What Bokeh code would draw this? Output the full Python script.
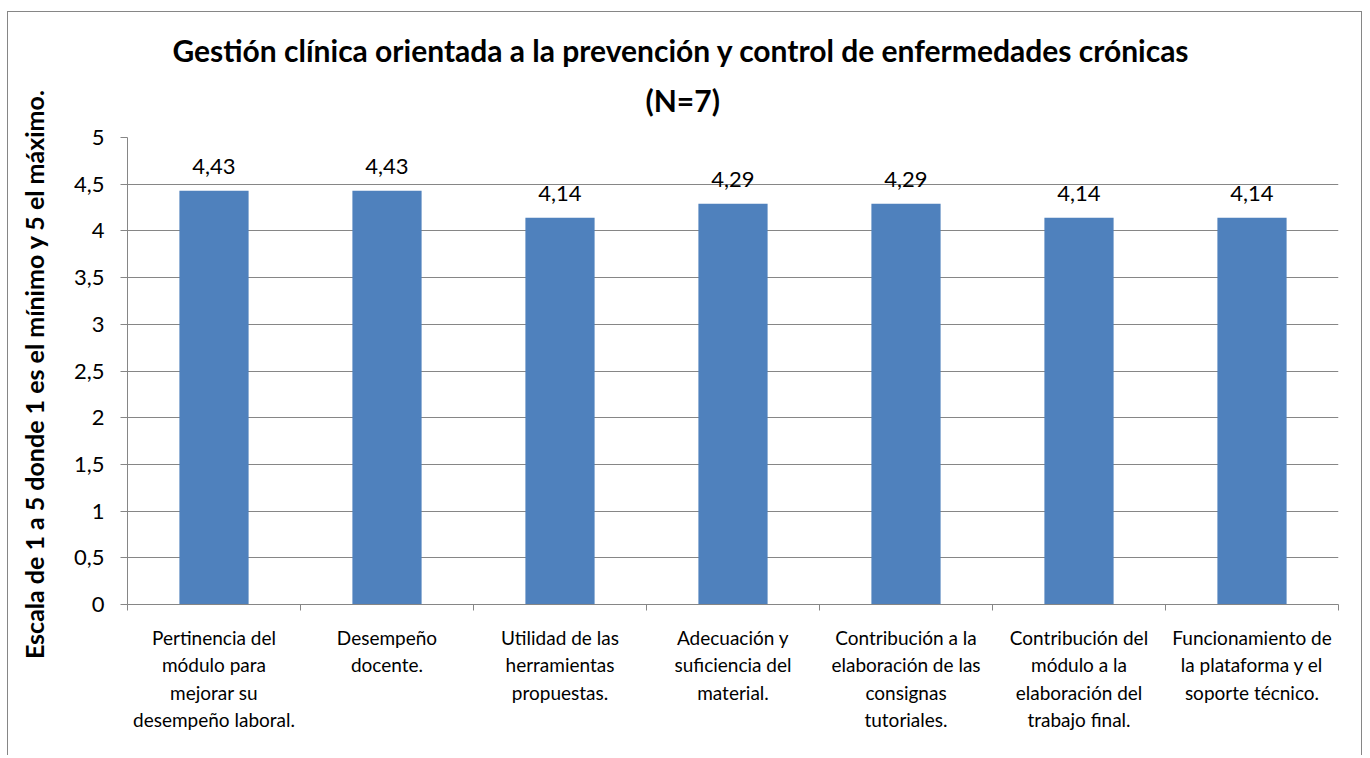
from bokeh.plotting import figure
from bokeh.models import ColumnDataSource, LabelSet, FixedTicker, Title
from bokeh.core.properties import value
from bokeh.embed import file_html
from bokeh.resources import INLINE

# ---- data ----
categories = [
    "Pertinencia del\nmódulo para\nmejorar su\ndesempeño laboral.",
    "Desempeño\ndocente.",
    "Utilidad de las\nherramientas\npropuestas.",
    "Adecuación y\nsuficiencia del\nmaterial.",
    "Contribución a la\nelaboración de las\nconsignas\ntutoriales.",
    "Contribución del\nmódulo a la\nelaboración del\ntrabajo final.",
    "Funcionamiento de\nla plataforma y el\nsoporte técnico.",
]
values = [4.43, 4.43, 4.14, 4.29, 4.29, 4.14, 4.14]
value_labels = ["4,43", "4,43", "4,14", "4,29", "4,29", "4,14", "4,14"]
y_ticks = [0, 0.5, 1, 1.5, 2, 2.5, 3, 3.5, 4, 4.5, 5]
y_tick_labels = ["0", "0,5", "1", "1,5", "2", "2,5", "3", "3,5", "4", "4,5", "5"]
title_line1 = "Gestión clínica orientada a  la prevención y control de enfermedades crónicas"
title_line2 = "(N=7)"
y_title = "Escala  de 1 a 5 donde 1 es el mínimo y 5 el máximo."

FONT = "Lato"
GRID = "#868686"
BAR = "#4F81BD"

n = len(categories)
xs = [i + 0.5 for i in range(n)]

src = ColumnDataSource(dict(x=xs, top=values, lab=value_labels))

p = figure(
    width=1355, height=744,
    x_range=(0, n), y_range=(0, 5),
    output_backend="svg", toolbar_location=None,
    min_border_left=119, min_border_right=25,
    min_border_top=125, min_border_bottom=152,
)
p.outline_line_color = None
p.background_fill_color = "white"
p.border_fill_color = "white"
p.styles = {
    "margin-left": "7px",
    "margin-top": "11px",
    "border-left": "1px solid #868686",
    "border-right": "1px solid #868686",
    "border-top": "1px solid #868686",
}

p.vbar(x="x", top="top", width=0.4, bottom=0, source=src,
       fill_color=BAR, line_color=None)

p.add_layout(LabelSet(x="x", y="top", text="lab", source=src,
                      text_align="center", text_baseline="alphabetic",
                      y_offset=17, text_font=value(FONT), text_font_size="22px",
                      text_color="black"))

# x axis: labels at centres, tick marks at category boundaries
xa = p.xaxis[0]
xa.ticker = FixedTicker(ticks=xs, minor_ticks=list(range(n + 1)))
xa.major_label_overrides = {x: c for x, c in zip(xs, categories)}
xa.major_tick_out = 0
xa.major_tick_in = 0
xa.minor_tick_out = 6
xa.minor_tick_in = 0
xa.minor_tick_line_color = GRID
xa.axis_line_color = GRID
xa.major_label_standoff = 15
xa.major_label_text_font = FONT
xa.major_label_text_font_size = "19px"
xa.major_label_text_color = "black"
xa.major_label_text_line_height = 1.2

ya = p.yaxis[0]
ya.ticker = FixedTicker(ticks=y_ticks)
ya.major_label_overrides = {t: l for t, l in zip(y_ticks, y_tick_labels)}
ya.major_tick_out = 7
ya.major_tick_in = 0
ya.minor_tick_line_color = None
ya.major_tick_line_color = GRID
ya.axis_line_color = GRID
ya.major_label_standoff = 16
ya.major_label_text_font = FONT
ya.major_label_text_font_size = "22px"
ya.major_label_text_color = "black"
ya.axis_label = y_title
ya.axis_label_text_font = FONT
ya.axis_label_text_font_style = "bold"
ya.axis_label_text_font_size = "25px"
ya.axis_label_text_color = "black"
ya.axis_label_standoff = 22

p.xgrid.grid_line_color = None
p.ygrid.grid_line_color = GRID
p.ygrid.ticker = FixedTicker(ticks=y_ticks)

# titles (the later-added title sits closer to the plot)
p.title.text = title_line1
p.title.align = "left"
p.title.offset = 45
p.title.text_font = FONT
p.title.text_font_style = "bold"
p.title.text_font_size = "30px"
p.title.text_color = "black"
p.title.standoff = 18
# trailing empty line lifts "(N=7)" a little further above the plot area
t2 = Title(text=title_line2 + "\n", align="left", offset=518, text_font=FONT,
           text_font_style="bold", text_font_size="30px", text_color="black",
           text_line_height=0.47, standoff=6)
p.add_layout(t2, "above")

open("out.html", "w").write(file_html(p, INLINE))
